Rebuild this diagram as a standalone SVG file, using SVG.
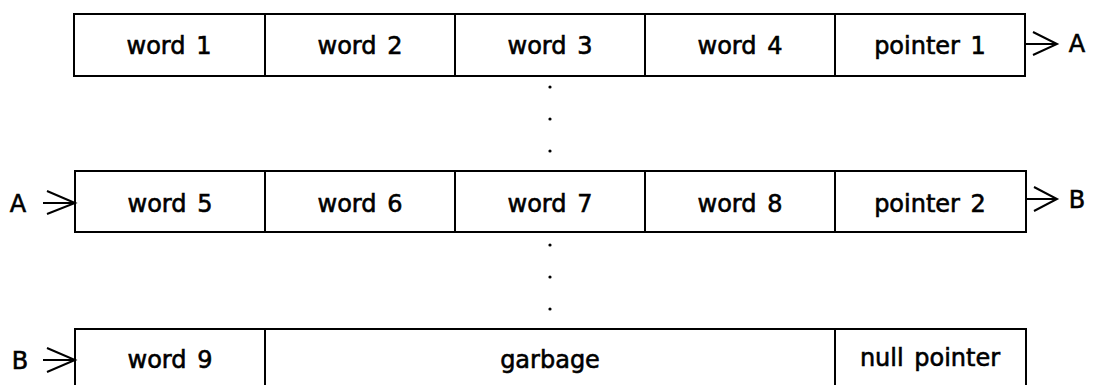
<svg xmlns="http://www.w3.org/2000/svg" width="1097" height="385" viewBox="0 0 1097 385">
<style>
.box{fill:#fff;stroke:#000;stroke-width:2}
.div{stroke:#000;stroke-width:2}
.t{font-family:"DejaVu Sans",sans-serif;font-size:24px;fill:#000;stroke:#000;stroke-width:0.6;text-anchor:middle;word-spacing:3px}
.arr{fill:none;stroke:#000;stroke-width:2;stroke-linejoin:miter}
.dot{fill:#000}
</style>
<rect width="1097" height="385" fill="#fff"/>
<g id="row1">
<rect class="box" x="74" y="14" width="951" height="62"/>
<line class="div" x1="265" y1="14" x2="265" y2="76"/>
<line class="div" x1="455" y1="14" x2="455" y2="76"/>
<line class="div" x1="645" y1="14" x2="645" y2="76"/>
<line class="div" x1="835" y1="14" x2="835" y2="76"/>
<text class="t" x="169" y="54">word 1</text>
<text class="t" x="360" y="54">word 2</text>
<text class="t" x="550" y="54">word 3</text>
<text class="t" x="740" y="54">word 4</text>
<text class="t" x="930" y="54">pointer 1</text>
</g>
<g id="row2">
<rect class="box" x="75" y="171" width="951" height="61"/>
<line class="div" x1="265" y1="171" x2="265" y2="232"/>
<line class="div" x1="455" y1="171" x2="455" y2="232"/>
<line class="div" x1="645" y1="171" x2="645" y2="232"/>
<line class="div" x1="835" y1="171" x2="835" y2="232"/>
<text class="t" x="170" y="212">word 5</text>
<text class="t" x="360" y="212">word 6</text>
<text class="t" x="550" y="212">word 7</text>
<text class="t" x="740" y="212">word 8</text>
<text class="t" x="930" y="212">pointer 2</text>
</g>
<g id="row3">
<rect class="box" x="75" y="329" width="951" height="70"/>
<line class="div" x1="265" y1="329" x2="265" y2="390"/>
<line class="div" x1="835" y1="329" x2="835" y2="390"/>
<text class="t" x="170" y="368">word 9</text>
<text class="t" x="550" y="368">garbage</text>
<text class="t" x="930" y="366">null pointer</text>
</g>
<g id="connectors">
<line class="arr" x1="1025" y1="44" x2="1056" y2="44"/>
<polyline class="arr" points="1033,32 1057,44 1033,55"/>
<line class="arr" x1="1026" y1="199" x2="1056" y2="199"/>
<polyline class="arr" points="1034,187 1057,199 1034,211"/>
<line class="arr" x1="43" y1="203" x2="74" y2="203"/>
<polyline class="arr" points="47,191 75,203 47,214"/>
<line class="arr" x1="43" y1="360" x2="74" y2="360"/>
<polyline class="arr" points="47,348 75,360 47,372"/>
</g>
<g id="labels">
<text class="t" x="1077" y="52">A</text>
<text class="t" x="1077" y="208">B</text>
<text class="t" x="18" y="212">A</text>
<text class="t" x="20" y="369">B</text>
</g>
<g id="dots">
<circle class="dot" cx="550" cy="87" r="1.6"/>
<circle class="dot" cx="550" cy="119" r="1.6"/>
<circle class="dot" cx="550" cy="151" r="1.6"/>
<circle class="dot" cx="550" cy="245" r="1.6"/>
<circle class="dot" cx="550" cy="277" r="1.6"/>
<circle class="dot" cx="550" cy="309" r="1.6"/>
</g>
</svg>
